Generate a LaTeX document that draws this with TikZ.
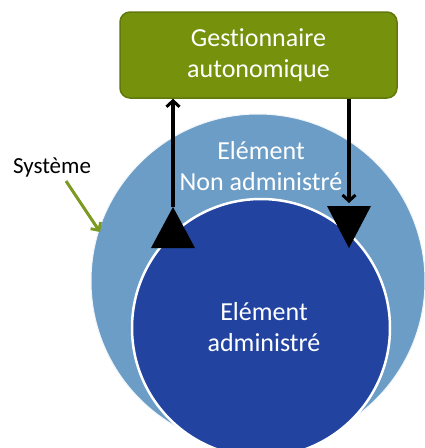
\documentclass[tikz,border=0pt]{standalone}
\usepackage{fontspec}
\setmainfont{Carlito}[Ligatures={NoCommon,NoContextual,NoRare}]
\usetikzlibrary{arrows.meta}
\definecolor{lightblue}{RGB}{108,157,198}
\definecolor{darkblue}{RGB}{34,68,160}
\definecolor{boxgreen}{RGB}{118,146,12}
\definecolor{boxedge}{RGB}{96,120,12}
\definecolor{arrowgreen}{RGB}{122,154,32}
\tikzset{
  blob/.style={circle, inner sep=0pt},
  whitetext/.style={text=white, font=\fontsize{26}{31}\selectfont, align=center, inner sep=0pt},
  flow/.style={line width=3.2pt, -{Straight Barb[length=6pt,width=13pt,line width=3pt]}},
  bigtip/.style={fill=black},
}
\begin{document}
\begin{tikzpicture}[x=1pt,y=-1pt]
\useasboundingbox (0,0) rectangle (425,448);
% circles
\node[blob, fill=lightblue, draw=white!90!lightblue, line width=1pt, minimum size=334pt] (outer) at (258,281) {};
\node[blob, fill=darkblue, draw=white, line width=2.5pt, minimum size=258pt] (inner) at (261,328) {};
% texts in circles
\node[whitetext] (ne) at (261,166) {Elément\\Non administré};
\node[whitetext] (ea) at (264,327) {Elément\\administré};
% manager box
\node[draw=boxedge, fill=boxgreen, line width=1.5pt, rounded corners=10pt,
      minimum width=277pt, minimum height=86pt, whitetext] (gest) at (258.5,55) {Gest\kern0pt ionnaire\\autonomique};
% system label
\node[font=\fontsize{23}{28}\selectfont, inner sep=0pt] (sys) at (52,167) {Système};
\coordinate (sysa) at (66,181);
\coordinate (sysb) at (100,232);
\draw[line width=3pt, arrowgreen, -{Straight Barb[length=6pt,width=12pt,line width=2.8pt]}] (sysa) -- (sysb);
% left arrow (up)
\coordinate (la) at (173,207);
\coordinate (lb1) at (151,248);
\coordinate (lb2) at (195,248);
\fill[bigtip] (la) -- (lb1) -- (lb2) -- cycle;
\draw[flow] (la) -- (la |- gest.south);
% right arrow (down)
\coordinate (ra) at (349,248);
\coordinate (rb1) at (327,206);
\coordinate (rb2) at (371,206);
\coordinate (rend) at (349,203);
\fill[bigtip] (ra) -- (rb1) -- (rb2) -- cycle;
\draw[flow] (rend |- gest.south) -- (rend);
\end{tikzpicture}
\end{document}
